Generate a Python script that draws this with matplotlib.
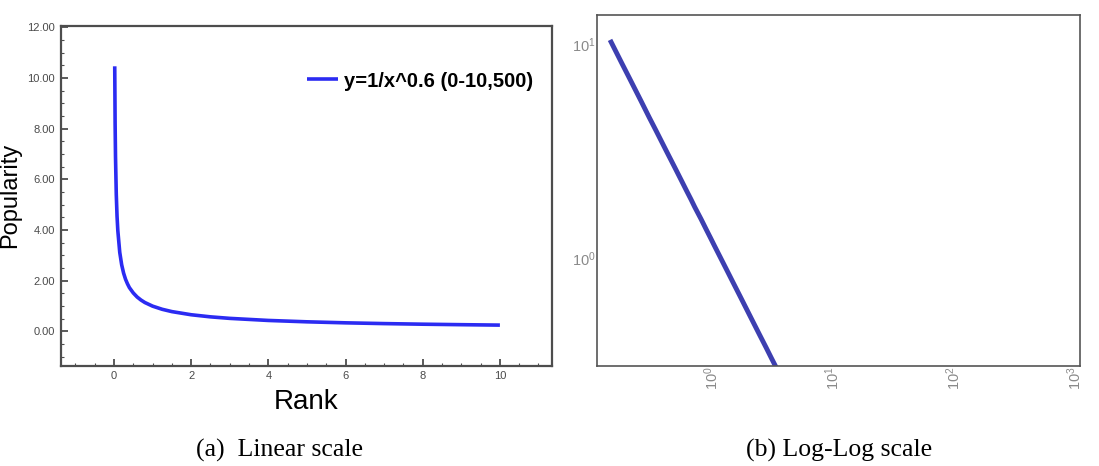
import numpy as np
import matplotlib
matplotlib.use("Agg")
import matplotlib.pyplot as plt
from matplotlib.ticker import MultipleLocator, FormatStrFormatter, LogLocator, NullFormatter, NullLocator

plt.rcParams['font.family'] = ['Liberation Sans', 'DejaVu Sans']
plt.rcParams['mathtext.fontset'] = 'custom'
plt.rcParams['mathtext.rm'] = 'Liberation Sans'
plt.rcParams['mathtext.it'] = 'Liberation Sans:italic'
plt.rcParams['mathtext.bf'] = 'Liberation Sans:bold'

# --- data (y = 1/x^0.6 over 0-10) ---
rank = [0.02, 0.03, 0.04, 0.06, 0.08, 0.10, 0.15, 0.20, 0.25, 0.30,
        0.35, 0.40, 0.50, 0.60, 0.70, 0.80, 1.00, 1.25, 1.50, 2.00,
        2.50, 3.00, 4.00, 5.00, 6.00, 7.00, 8.00, 9.00, 10.0]
popularity = [10.46, 8.19, 6.90, 5.41, 4.54, 3.98, 3.12, 2.63, 2.30, 2.06,
              1.88, 1.73, 1.52, 1.36, 1.24, 1.143, 1.000, 0.875, 0.784, 0.660,
              0.577, 0.517, 0.435, 0.381, 0.341, 0.311, 0.287, 0.268, 0.251]
series_label = 'y=1/x^0.6 (0-10,500)'
captions = ['(a)  Linear scale', '(b) Log-Log scale']

W, H = 1099, 466
fig = plt.figure(figsize=(W / 100, H / 100), dpi=100)

# --- (a) linear scale ---
ax1 = fig.add_axes([60.7 / W, 1 - 365.7 / H, (552 - 60.7) / W, (365.7 - 26) / H])
ax1.plot(rank, popularity, color='#2b2bf2', lw=2.6, solid_capstyle='butt',
         solid_joinstyle='round', label=series_label)
ax1.set_xlim(-1.38, 11.35)
ax1.set_ylim(-1.35, 12.05)
ax1.xaxis.set_major_locator(MultipleLocator(2))
ax1.xaxis.set_minor_locator(MultipleLocator(0.5))
ax1.yaxis.set_major_locator(MultipleLocator(2))
ax1.yaxis.set_minor_locator(MultipleLocator(0.5))
ax1.yaxis.set_major_formatter(FormatStrFormatter('%.2f'))
ax1.tick_params(which='both', direction='in', top=False, right=False,
                colors='#4d4d4d', labelcolor='#4a4a4a', labelsize=8)
ax1.tick_params(which='major', length=5, width=1.3, pad=4)
ax1.tick_params(which='minor', length=2.5, width=0.8)
for s in ax1.spines.values():
    s.set_color('#4d4d4d')
    s.set_linewidth(1.6)
ax1.set_xlabel('Rank', fontsize=20)
ax1.set_ylabel('Popularity', fontsize=17)
ax1.xaxis.set_label_coords(0.5, -0.068)
ax1.yaxis.set_label_coords(-0.081, 0.5)
ax1.legend(loc='center right', bbox_to_anchor=(0.962, 0.838), frameon=False,
           borderaxespad=0, borderpad=0, handlelength=1.55, handletextpad=0.3,
           prop={'weight': 'bold', 'size': 14.5})

# --- (b) log-log scale ---
ax2 = fig.add_axes([596.7 / W, 1 - 366 / H, (1080 - 596.7) / W, (366 - 15) / H])
ax2.loglog(rank, popularity, color='#3d3fb0', lw=3.5, solid_capstyle='butt')
ax2.set_xlim(10 ** -1.904, 10 ** 5.52)
ax2.set_ylim(10 ** -0.505, 10 ** 1.136)
ax2.xaxis.set_major_locator(NullLocator())
ax2.xaxis.set_minor_locator(NullLocator())
ax2.yaxis.set_minor_formatter(NullFormatter())
ax2.tick_params(axis='y', which='both', length=0, pad=0.5,
                labelcolor='#8a8a8a', labelsize=10.5)
for s in ax2.spines.values():
    s.set_color('#555555')
    s.set_linewidth(1.2)

# the x labels of panel (b) come from their own decade axis
ax2t = ax2.twiny()
ax2t.set_xscale('log')
ax2t.set_xlim(10 ** -0.945, 10 ** 3.04)
ax2t.xaxis.set_major_locator(LogLocator(base=10, numticks=10))
ax2t.xaxis.set_minor_locator(NullLocator())
ax2t.xaxis.set_ticks_position('bottom')
ax2t.xaxis.set_label_position('bottom')
ax2t.tick_params(axis='x', which='both', length=0, pad=0,
                 labelcolor='#8a8a8a', labelsize=10.5, labelrotation=90)
for s in ax2t.spines.values():
    s.set_visible(False)

# captions
fig.text(279 / W, 1 - 450 / H, captions[0], family='Liberation Serif',
         fontsize=18.5, ha='center', va='center')
fig.text(839 / W, 1 - 450 / H, captions[1], family='Liberation Serif',
         fontsize=18.5, ha='center', va='center')

fig.savefig('out.png', dpi=100)
